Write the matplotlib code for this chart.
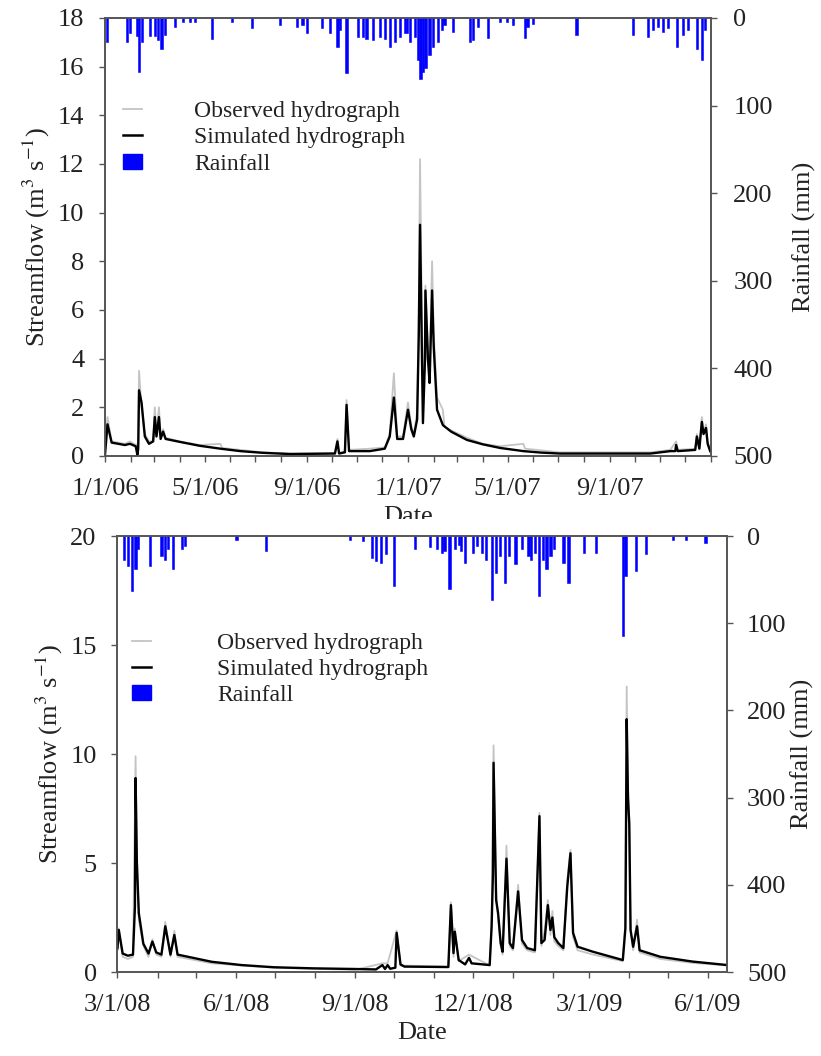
import numpy as np
import pandas as pd
import matplotlib
matplotlib.use("Agg")
import matplotlib.pyplot as plt
import matplotlib.dates as mdates
from matplotlib.lines import Line2D
from matplotlib.patches import Patch, Rectangle
from matplotlib import rcParams

rcParams['font.family'] = 'Liberation Serif'
rcParams['mathtext.fontset'] = 'stix'

# ---------------- panel 1 : 2006-2007 ----------------
sim1_dates = ['2006-01-01', '2006-01-04', '2006-01-09', '2006-01-25', '2006-01-31', '2006-02-07',
              '2006-02-09', '2006-02-10', '2006-02-11', '2006-02-14', '2006-02-18', '2006-02-23',
              '2006-02-28', '2006-03-02', '2006-03-04', '2006-03-07', '2006-03-09', '2006-03-12',
              '2006-03-15', '2006-04-01', '2006-04-25', '2006-05-20', '2006-06-13', '2006-07-10',
              '2006-08-12', '2006-10-05', '2006-10-08',
              '2006-10-10', '2006-10-17', '2006-10-19', '2006-10-22', '2006-11-16', '2006-12-04',
              '2006-12-10', '2006-12-15', '2006-12-19', '2006-12-26', '2007-01-01', '2007-01-05',
              '2007-01-08', '2007-01-12', '2007-01-14', '2007-01-15 12:00', '2007-01-19',
              '2007-01-21 12:00', '2007-01-22', '2007-01-25', '2007-01-27', '2007-01-30',
              '2007-02-01', '2007-02-05', '2007-02-12', '2007-02-22', '2007-03-13', '2007-04-01',
              '2007-04-22', '2007-05-20', '2007-06-10', '2007-07-03',
              '2007-10-20', '2007-11-13', '2007-11-19', '2007-11-20', '2007-11-22', '2007-12-13',
              '2007-12-15', '2007-12-18', '2007-12-21', '2007-12-23', '2007-12-26', '2007-12-28',
              '2007-12-31']
sim1_flow = [0.05, 1.3, 0.55, 0.45, 0.5, 0.4,
             0.05, 0.3, 2.7, 2.2, 0.8, 0.5,
             0.6, 1.6, 0.8, 1.6, 0.7, 1.0,
             0.7, 0.58, 0.42, 0.3, 0.2, 0.13,
             0.08, 0.1, 0.6,
             0.1, 0.15, 2.1, 0.2, 0.2, 0.3,
             0.8, 2.4, 0.7, 0.7, 1.9, 1.1,
             0.8, 1.5, 5.0, 9.5, 1.35,
             4.0, 6.8, 4.0, 3.0, 6.8,
             4.5, 1.9, 1.27, 1.0, 0.66, 0.48,
             0.33, 0.2, 0.14, 0.1,
             0.1, 0.2, 0.2, 0.45, 0.2, 0.25,
             0.8, 0.3, 1.4, 0.9, 1.15, 0.5,
             0.2]

obs1_dates = ['2006-01-01', '2006-01-04', '2006-01-09', '2006-01-25', '2006-01-31', '2006-02-07',
              '2006-02-10', '2006-02-11', '2006-02-14', '2006-02-18', '2006-02-23', '2006-02-28',
              '2006-03-02', '2006-03-04', '2006-03-07', '2006-03-09', '2006-03-12', '2006-03-15',
              '2006-04-01', '2006-04-25', '2006-05-20', '2006-05-22', '2006-06-13', '2006-07-10',
              '2006-08-12', '2006-10-05',
              '2006-10-08', '2006-10-10', '2006-10-17', '2006-10-19', '2006-10-22', '2006-11-16',
              '2006-12-04', '2006-12-10', '2006-12-15', '2006-12-19', '2006-12-26', '2007-01-01',
              '2007-01-05', '2007-01-08', '2007-01-12', '2007-01-14', '2007-01-15 12:00',
              '2007-01-19', '2007-01-21 12:00', '2007-01-22', '2007-01-25', '2007-01-27',
              '2007-01-30', '2007-02-01', '2007-02-05', '2007-02-12', '2007-02-14', '2007-02-22',
              '2007-03-13', '2007-04-01',
              '2007-04-22', '2007-05-20', '2007-05-22', '2007-07-03', '2007-10-20', '2007-11-13',
              '2007-11-20', '2007-11-22', '2007-12-13', '2007-12-15', '2007-12-18', '2007-12-21',
              '2007-12-23', '2007-12-26', '2007-12-28', '2007-12-31']
obs1_flow = [0.3, 1.6, 0.6, 0.5, 0.6, 0.45,
             0.5, 3.5, 2.0, 0.9, 0.6, 0.6,
             2.0, 0.9, 2.0, 0.8, 1.1, 0.75,
             0.6, 0.45, 0.5, 0.33, 0.25, 0.15,
             0.1, 0.12,
             0.7, 0.12, 0.2, 2.3, 0.25, 0.3,
             0.35, 0.9, 3.4, 0.8, 0.8, 2.2,
             1.2, 0.9, 1.8, 6.0, 12.2,
             2.0, 5.0, 7.0, 4.5, 3.5,
             8.0, 5.0, 2.4, 1.9, 1.2, 1.05,
             0.75, 0.5,
             0.4, 0.5, 0.3, 0.15, 0.15, 0.25,
             0.6, 0.25, 0.3, 0.9, 0.35, 1.6,
             1.0, 1.3, 0.6, 0.25]

rain1_dates = ['2006-01-03', '2006-01-27', '2006-01-31', '2006-02-09', '2006-02-11', '2006-02-15',
               '2006-02-24', '2006-03-02', '2006-03-06', '2006-03-10', '2006-03-14', '2006-03-26',
               '2006-04-05', '2006-04-13', '2006-04-19', '2006-05-10', '2006-06-03', '2006-06-27',
               '2006-07-31', '2006-08-20', '2006-08-27', '2006-09-01', '2006-09-19', '2006-09-29',
               '2006-10-08', '2006-10-11', '2006-10-19', '2006-11-02', '2006-11-08', '2006-11-12',
               '2006-11-20', '2006-11-28', '2006-12-04', '2006-12-10', '2006-12-16', '2006-12-22',
               '2006-12-28', '2006-12-31', '2007-01-03', '2007-01-09', '2007-01-13', '2007-01-16',
               '2007-01-19', '2007-01-22', '2007-01-27', '2007-01-31', '2007-02-06', '2007-02-11',
               '2007-02-14', '2007-02-24', '2007-03-17', '2007-03-20', '2007-03-26', '2007-04-07',
               '2007-04-22', '2007-04-30', '2007-05-07', '2007-05-22', '2007-05-25', '2007-06-01',
               '2007-07-23', '2007-09-29', '2007-10-17', '2007-10-23', '2007-10-29', '2007-11-04',
               '2007-11-10', '2007-11-21', '2007-11-28', '2007-12-04', '2007-12-15', '2007-12-21',
               '2007-12-25']
rain1_mm = [28, 28, 17, 21, 62, 27,
            21, 21, 25, 35, 19, 10,
            5, 5, 5, 24, 5, 12,
            8, 10, 8, 17, 12, 17,
            33, 14, 63, 22, 22, 24,
            25, 22, 24, 33, 27, 22,
            17, 17, 28, 22, 48, 70,
            62, 57, 42, 33, 28, 14,
            8, 16, 28, 25, 10, 23,
            5, 5, 8, 23, 10, 7,
            19, 19, 22, 14, 10, 16,
            12, 33, 19, 14, 35, 48,
            14]

xticks1 = ['2006-01-01', '2006-05-01', '2006-09-01', '2007-01-01', '2007-05-01', '2007-09-01']
xlabels1 = ['1/1/06', '5/1/06', '9/1/06', '1/1/07', '5/1/07', '9/1/07']
xlim1 = ('2006-01-01', '2008-01-01')
yticks1 = [0, 2, 4, 6, 8, 10, 12, 14, 16, 18]

# ---------------- panel 2 : 2008-2009 ----------------
sim2_dates = ['2008-03-01', '2008-03-02', '2008-03-05', '2008-03-09', '2008-03-13', '2008-03-14 12:00',
              '2008-03-15', '2008-03-16', '2008-03-17 12:00', '2008-03-21', '2008-03-25', '2008-03-28',
              '2008-03-31', '2008-04-04', '2008-04-07', '2008-04-11', '2008-04-14', '2008-04-16 12:00',
              '2008-05-13', '2008-06-05', '2008-06-30', '2008-07-30', '2008-09-01', '2008-09-17',
              '2008-09-22', '2008-09-24',
              '2008-09-26', '2008-09-28', '2008-10-02', '2008-10-03', '2008-10-06', '2008-10-09',
              '2008-11-12', '2008-11-14', '2008-11-16', '2008-11-17', '2008-11-20', '2008-11-25',
              '2008-11-28', '2008-11-30', '2008-12-14', '2008-12-15 12:00', '2008-12-16 12:00',
              '2008-12-17', '2008-12-19', '2008-12-20 12:00', '2008-12-22 12:00', '2008-12-24',
              '2008-12-27', '2008-12-29 12:00', '2009-01-01', '2009-01-05', '2009-01-08', '2009-01-12',
              '2009-01-18', '2009-01-21 12:00', '2009-01-23', '2009-01-25 12:00', '2009-01-28',
              '2009-01-30', '2009-01-31 12:00', '2009-02-02', '2009-02-05', '2009-02-09', '2009-02-12',
              '2009-02-14 12:00', '2009-02-16 12:00', '2009-02-20', '2009-03-04', '2009-03-27',
              '2009-03-29', '2009-03-30', '2009-03-31', '2009-04-01', '2009-04-02', '2009-04-04',
              '2009-04-07', '2009-04-09', '2009-04-25', '2009-05-20', '2009-06-16']
sim2_flow = [1.1, 1.93, 0.85, 0.75, 0.8, 3.0,
             8.9, 5.0, 2.7, 1.3, 0.85, 1.4,
             0.9, 0.8, 2.1, 0.8, 1.7, 0.8,
             0.47, 0.32, 0.22, 0.17, 0.14, 0.12,
             0.32, 0.14,
             0.32, 0.15, 0.2, 1.8, 0.35, 0.25,
             0.23, 3.07, 0.87, 1.85, 0.55, 0.35,
             0.65, 0.4, 0.32, 2.1, 4.5,
             9.6, 3.3, 2.7, 1.33, 0.93,
             5.2, 1.33, 1.1, 3.7, 1.47, 1.1,
             1.0, 7.15, 1.33, 1.47, 3.07,
             1.93, 2.5, 1.6, 1.33, 1.1, 3.9,
             5.45, 1.8, 1.16, 0.93, 0.55,
             2.0, 11.6, 8.0, 6.8, 1.93, 1.16,
             2.1, 1.0, 0.7, 0.48, 0.32]

obs2_dates = ['2008-03-01', '2008-03-02', '2008-03-05', '2008-03-09', '2008-03-13', '2008-03-15',
              '2008-03-16', '2008-03-17 12:00', '2008-03-21', '2008-03-25', '2008-03-28', '2008-03-31',
              '2008-04-04', '2008-04-07', '2008-04-11', '2008-04-14', '2008-04-16 12:00', '2008-05-13',
              '2008-06-05', '2008-06-30', '2008-09-01', '2008-09-22', '2008-09-26', '2008-10-03',
              '2008-10-06',
              '2008-11-12', '2008-11-14', '2008-11-16', '2008-11-17', '2008-11-20', '2008-11-28',
              '2008-12-14', '2008-12-15 12:00', '2008-12-17', '2008-12-19', '2008-12-22 12:00',
              '2008-12-24', '2008-12-27', '2008-12-29 12:00', '2009-01-01', '2009-01-05', '2009-01-08',
              '2009-01-12', '2009-01-18', '2009-01-21 12:00', '2009-01-23', '2009-01-25 12:00',
              '2009-01-28', '2009-01-30', '2009-01-31 12:00', '2009-02-02', '2009-02-05', '2009-02-09',
              '2009-02-12', '2009-02-14 12:00', '2009-02-16 12:00', '2009-02-20', '2009-03-04',
              '2009-03-27', '2009-03-29', '2009-03-30', '2009-03-31', '2009-04-01', '2009-04-02',
              '2009-04-04', '2009-04-07', '2009-04-09', '2009-04-25', '2009-05-20', '2009-06-16']
obs2_flow = [1.0, 2.0, 0.7, 0.6, 0.7, 9.9,
             5.5, 2.4, 1.2, 0.7, 1.5, 0.8,
             0.7, 2.3, 0.7, 1.9, 0.7, 0.4,
             0.3, 0.2, 0.1, 0.4, 0.4, 1.9,
             0.3,
             0.25, 3.2, 0.7, 2.0, 0.5, 0.8,
             0.3, 2.4, 10.4, 3.5, 1.2,
             0.8, 5.8, 1.2, 1.0, 4.0, 1.3,
             1.0, 0.9, 7.3, 1.2, 1.9,
             3.3, 1.7, 2.8, 1.4, 1.2, 1.0,
             4.2, 5.6, 1.6, 1.0, 0.8,
             0.5, 2.3, 13.1, 8.5, 7.0, 2.0,
             1.0, 2.4, 0.9, 0.6, 0.42, 0.3]

rain2_dates = ['2008-03-06', '2008-03-09', '2008-03-12', '2008-03-15', '2008-03-17', '2008-03-26',
               '2008-04-04', '2008-04-07', '2008-04-09', '2008-04-13', '2008-04-20', '2008-04-22',
               '2008-06-01', '2008-06-24', '2008-08-28', '2008-09-07', '2008-09-14', '2008-09-17',
               '2008-09-21', '2008-09-25', '2008-10-01', '2008-10-17', '2008-10-29', '2008-11-03',
               '2008-11-07', '2008-11-09', '2008-11-13', '2008-11-17', '2008-11-20', '2008-11-22',
               '2008-11-25', '2008-12-01', '2008-12-04', '2008-12-08', '2008-12-11', '2008-12-16',
               '2008-12-19', '2008-12-22', '2008-12-26', '2008-12-29', '2009-01-03', '2009-01-08',
               '2009-01-13', '2009-01-15', '2009-01-18', '2009-01-21', '2009-01-24', '2009-01-27',
               '2009-01-30', '2009-02-02', '2009-02-09', '2009-02-13', '2009-02-25', '2009-03-06',
               '2009-03-27', '2009-03-29', '2009-04-06', '2009-04-14', '2009-05-05', '2009-05-15',
               '2009-05-30']
rain2_mm = [27, 34, 63, 38, 15, 34,
            23, 27, 15, 38, 15, 11,
            4, 17, 4, 6, 25, 29,
            31, 21, 57, 15, 13, 15,
            19, 17, 61, 15, 10, 17,
            31, 19, 11, 19, 27, 73,
            42, 23, 54, 23, 32, 15,
            23, 27, 19, 69, 27, 38,
            23, 15, 31, 54, 19, 19,
            115, 46, 40, 21, 4, 4,
            8]

xticks2 = ['2008-03-01', '2008-06-01', '2008-09-01', '2008-12-01', '2009-03-01', '2009-06-01']
xlabels2 = ['3/1/08', '6/1/08', '9/1/08', '12/1/08', '3/1/09', '6/1/09']
xlim2 = ('2008-03-01', '2009-06-16')
yticks2 = [0, 5, 10, 15, 20]

rain_ticks = [0, 100, 200, 300, 400, 500]

OBS_C = '#c4c4c4'
SIM_C = 'black'
RAIN_C = '#0000ff'
AX_C = '#555555'
TXT_C = '#222222'
FS = 19


def dt(values):
    return pd.to_datetime(values, format='mixed')


fig = plt.figure(figsize=(8.21, 10.56), dpi=100)
ax1 = fig.add_axes([0.1279, 0.5682, 0.7381, 0.4148])
ax2 = fig.add_axes([0.1431, 0.0795, 0.7430, 0.4129])


def draw_panel(ax, sim_d, sim_q, obs_d, obs_q, rain_d, rain_mm, xticks, xlabels, xlim, yticks,
               leg_anchor, leg_pad, bar_w, rpad, rlabpad):
    ax.plot(dt(obs_d), obs_q, color=OBS_C, lw=1.3, zorder=2)
    ax.plot(dt(sim_d), sim_q, color=SIM_C, lw=1.7, zorder=3)
    ax.set_xlim(dt(xlim)[0], dt(xlim)[1])
    ax.set_ylim(yticks[0], yticks[-1])
    ax.set_yticks(yticks)
    ax.set_xticks(dt(xticks))
    ax.set_xticklabels(xlabels)
    ax.xaxis.set_minor_locator(mdates.MonthLocator())
    ax.set_xlabel('Date', fontsize=FS, color=TXT_C, labelpad=4)
    ax.set_ylabel('Streamflow (m$^{3}$ s$^{-1}$)', fontsize=FS, color=TXT_C, labelpad=4)
    ax.tick_params(axis='x', which='both', direction='out', length=4, width=1, color=AX_C,
                   labelsize=FS, labelcolor=TXT_C, pad=12)
    ax.tick_params(axis='y', direction='out', length=4, width=1, color=AX_C,
                   labelsize=FS, labelcolor=TXT_C, pad=11)

    axr = ax.twinx()
    axr.bar(dt(rain_d), rain_mm, width=bar_w, color=RAIN_C, edgecolor=RAIN_C,
            linewidth=0.4, align='center')
    axr.set_ylim(rain_ticks[-1], rain_ticks[0])
    axr.set_yticks(rain_ticks)
    axr.set_ylabel('Rainfall (mm)', fontsize=FS, color=TXT_C, labelpad=rlabpad)
    axr.tick_params(axis='y', direction='out', length=4, width=1, color=AX_C,
                    labelsize=FS, labelcolor=TXT_C, pad=rpad)
    for a in (ax, axr):
        for s in a.spines.values():
            s.set_color(AX_C)
            s.set_linewidth(1.2)

    handles = [Line2D([], [], color=OBS_C, lw=1.3),
               Line2D([], [], color=SIM_C, lw=1.8),
               Patch(facecolor=RAIN_C, edgecolor=RAIN_C)]
    labels = ['Observed hydrograph', 'Simulated hydrograph', 'Rainfall']
    axr.legend(handles, labels, loc='upper left', bbox_to_anchor=leg_anchor, frameon=False,
               fontsize=17, handlelength=0.8, handleheight=0.6, handletextpad=leg_pad,
               labelspacing=0.22, borderpad=0, borderaxespad=0, labelcolor=TXT_C)
    return axr


draw_panel(ax1, sim1_dates, sim1_flow, obs1_dates, obs1_flow, rain1_dates, rain1_mm,
           xticks1, xlabels1, xlim1, yticks1, (0.03, 0.81), 2.2, 2.6, 12, 14)
draw_panel(ax2, sim2_dates, sim2_flow, obs2_dates, obs2_flow, rain2_dates, rain2_mm,
           xticks2, xlabels2, xlim2, yticks2, (0.024, 0.778), 2.8, 1.8, 10, 3)

# the lower half of the first "Date" label is hidden in the original figure
fig.patches.append(Rectangle((0.30, 0.4934), 0.40, 0.0151, transform=fig.transFigure,
                             facecolor='white', edgecolor='none', zorder=10))

fig.savefig('out.png', dpi=100)
